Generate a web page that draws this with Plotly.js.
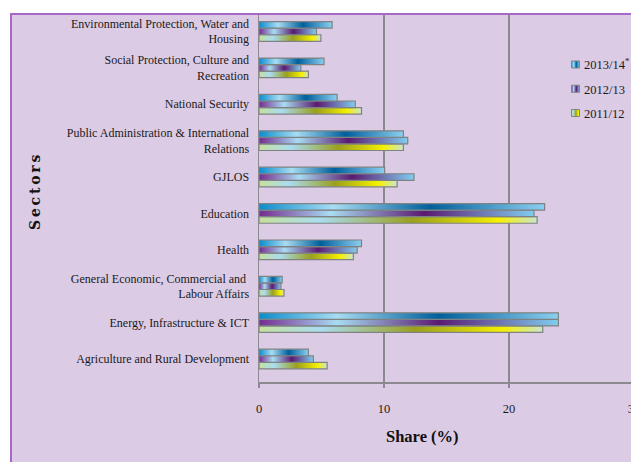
<!DOCTYPE html>
<html>
<head>
<meta charset="utf-8">
<script src="https://cdn.plot.ly/plotly-3.0.1.min.js"></script>
<style>
html,body{margin:0;padding:0;width:631px;height:462px;overflow:hidden;background:#fff;}
#bg{position:absolute;left:10px;top:13px;width:640px;height:460px;background:#dccbe4;border-left:2px solid #a867c6;border-top:2px solid #a867c6;}
#chart{position:absolute;left:0;top:0;width:680px;height:462px;}
</style>
</head>
<body>
<div id="bg"></div>
<div id="chart"></div>
<script>
const sectors = [
  "Agriculture and Rural Development",
  "Energy, Infrastructure & ICT",
  "General Economic, Commercial and <br>Labour Affairs",
  "Health",
  "Education",
  "GJLOS",
  "Public Administration & International<br>Relations",
  "National Security",
  "Social Protection, Culture and<br>Recreation",
  "Environmental Protection, Water and<br>Housing"
];
const y2011 = [5.45, 22.7, 2.0, 7.55, 22.25, 11.05, 11.55, 8.2, 3.95, 4.95];
const y2012 = [4.35, 23.95, 1.75, 7.85, 22.0, 12.4, 11.9, 7.7, 3.35, 4.6];
const y2013 = [3.95, 23.95, 1.85, 8.2, 22.85, 10.05, 11.55, 6.25, 5.2, 5.85];
const seriesNames = ["2011/12", "2012/13", "2013/14<sup>*</sup>"];

const serif = "Liberation Serif, Times New Roman, serif";
const line = {color: "#7f8282", width: 1.2};
function tr(vals, name, grp, rank) {
  return {type: "bar", orientation: "h", y: sectors, x: vals, name: name,
    legendgroup: grp, legendrank: rank, marker: {color: "#88c", line: line}, hoverinfo: "x"};
}
const data = [tr(y2011, seriesNames[0], "a", 3), tr(y2012, seriesNames[1], "b", 2), tr(y2013, seriesNames[2], "c", 1)];

const layout = {
  width: 680, height: 462,
  margin: {l: 259, r: 46, t: 15, b: 80},
  paper_bgcolor: "rgba(0,0,0,0)",
  plot_bgcolor: "rgba(0,0,0,0)",
  barmode: "group", bargap: 0.46, bargroupgap: 0,
  font: {family: serif, size: 12, color: "#1a1a1a"},
  showlegend: true,
  legend: {x: 0.76, y: 0.905, xanchor: "left", yanchor: "top", traceorder: "grouped",
    tracegroupgap: 5, font: {family: serif, size: 12.5, color: "#1a1a1a"}, bgcolor: "rgba(0,0,0,0)"},
  xaxis: {range: [0, 30], tickvals: [0, 10, 20, 30], ticktext: ["0", "10", "20", "30"],
    showgrid: true, gridcolor: "#8c8a90", gridwidth: 1.2, zeroline: false,
    showline: true, linecolor: "#8c8a90", linewidth: 1.5,
    ticks: "outside", ticklen: 4, tickcolor: "#8c8a90", tickwidth: 1.2,
    ticklabelstandoff: 10, tickfont: {family: serif, size: 12.5, color: "#1a1a1a"}, fixedrange: true},
  yaxis: {type: "category", range: [-0.632, 9.453], showgrid: false, zeroline: false,
    showline: true, linecolor: "#8c8a90", linewidth: 1.5, ticks: "", ticklabelstandoff: 6,
    tickfont: {family: serif, size: 12, color: "#1a1a1a"}, fixedrange: true},
  annotations: [
    {text: "<b>Share (%)</b>", xref: "paper", yref: "paper", x: (422 - 259) / 375, y: (382 - 436) / 367,
      xanchor: "center", yanchor: "middle",
      showarrow: false, font: {family: serif, size: 16.5, color: "#111"}},
    {text: "<b>S\u2009e\u2009c\u2009t\u2009o\u2009r\u2009s</b>", xref: "paper", yref: "paper", x: (35 - 259) / 375,
      y: (382 - 192) / 367, xanchor: "center", yanchor: "middle", textangle: -90, showarrow: false,
      font: {family: "DejaVu Serif, serif", size: 14, color: "#111"}}
  ]
};

const grads = [
  [[0, "#c6e09c"], [0.22, "#aadcf0"], [0.55, "#9aa01c"], [0.86, "#f6f000"], [1, "#cbe6cc"]],
  [[0, "#762a8e"], [0.26, "#a8dcf2"], [0.6, "#5a1a70"], [1, "#80cdf0"]],
  [[0, "#0a8ccc"], [0.26, "#a8dcf2"], [0.6, "#005f9c"], [1, "#8ccff0"]]
];

Plotly.newPlot("chart", data, layout, {staticPlot: true}).then(function (gd) {
  const svg = gd.querySelector(".main-svg");
  const NS = "http://www.w3.org/2000/svg";
  let defs = svg.querySelector("defs");
  if (!defs) { defs = document.createElementNS(NS, "defs"); svg.insertBefore(defs, svg.firstChild); }
  grads.forEach(function (st, i) {
    const lg = document.createElementNS(NS, "linearGradient");
    lg.setAttribute("id", "bargrad" + i);
    lg.setAttribute("x1", "0"); lg.setAttribute("x2", "1"); lg.setAttribute("y1", "0"); lg.setAttribute("y2", "0");
    st.forEach(function (s) {
      const stop = document.createElementNS(NS, "stop");
      stop.setAttribute("offset", s[0]); stop.setAttribute("stop-color", s[1]);
      lg.appendChild(stop);
    });
    defs.appendChild(lg);
  });
  gd.querySelectorAll(".barlayer .trace").forEach(function (t, i) {
    t.querySelectorAll("path").forEach(function (p) { p.style.fill = "url(#bargrad" + i + ")"; });
  });
  const items = gd.querySelectorAll(".legend .traces");
  items.forEach(function (it) {
    const name = it.textContent;
    let idx = name.indexOf("2011") >= 0 ? 0 : (name.indexOf("2012") >= 0 ? 1 : 2);
    it.querySelectorAll(".legendpoints path").forEach(function (p) {
      p.setAttribute("d", "M4,3.5H-4V-3.5H4Z");
      p.style.fill = "url(#bargrad" + idx + ")";
      p.style.strokeWidth = "1px";
    });
    const sym = it.querySelector(".legendsymbols");
    if (sym) sym.setAttribute("transform", "translate(11.5,0)");
  });
});
</script>
</body>
</html>
